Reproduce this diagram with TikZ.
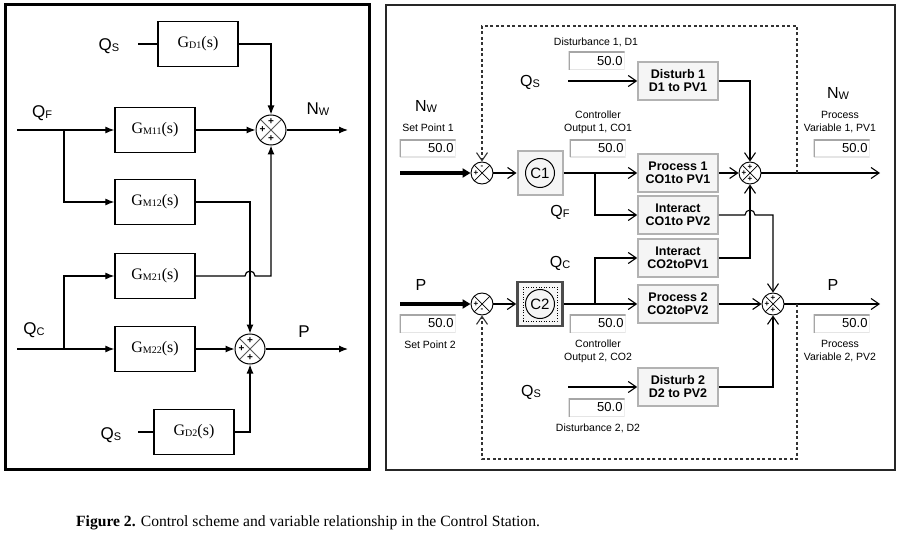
\documentclass[tikz,border=0pt]{standalone}
\usepackage{fontspec}
\setmainfont{Liberation Serif}
\setsansfont{Liberation Sans}
\usetikzlibrary{arrows.meta}
\newcommand\fs[1]{\fontsize{#1}{#1}\selectfont}
\newcommand\Gs[1]{G{\fs{10}\raisebox{-1pt}{#1}}(s)}
\newcommand\Qs[2]{#1{\fs{11}\raisebox{-1pt}{#2}}}
\begin{document}
\begin{tikzpicture}[x=1pt,y=-1pt,
  lbox/.style={draw, line width=1.3, minimum width=80, minimum height=45, inner sep=0, font=\fs{16}},
  larr/.style={line width=1.2, -{Latex[length=9pt,width=7pt]}},
  lline/.style={line width=1.2},
  llab/.style={font=\sffamily\fs{17}, inner sep=0},
  lsign/.style={font=\sffamily\bfseries\fs{10}, inner sep=0},
  lsum/.style n args={4}{circle, draw, line width=1, minimum size=30, inner sep=0,
    path picture={
      \draw[line width=0.8, gray!70!black] (path picture bounding box.north west) -- (path picture bounding box.south east)
        (path picture bounding box.north east) -- (path picture bounding box.south west);
      \node[lsign] at ([yshift=8.5pt]path picture bounding box.center) {#1};
      \node[lsign] at ([xshift=-8.5pt]path picture bounding box.center) {#2};
      \node[lsign] at ([yshift=-8.5pt]path picture bounding box.center) {#3};
      \node[lsign] at ([xshift=8.5pt]path picture bounding box.center) {#4};
    }},
  rbox/.style={draw=gray!60, line width=1.6, fill=gray!8, minimum width=80, minimum height=38, inner sep=0,
    font=\sffamily\bfseries\fontsize{12.5}{13}\selectfont, align=center},
  rarr/.style={line width=1.1, -{Straight Barb[length=8pt,width=11pt]}},
  thk/.style={line width=3.5, -{Triangle[length=8pt,width=9pt]}},
  fbk/.style={line width=1.1, dash pattern=on 3pt off 2.5pt, black!80, -{Straight Barb[length=8pt,width=11pt]}},
  rsign/.style={font=\sffamily\bfseries\fs{8}, inner sep=0},
  rsum/.style n args={4}{circle, draw, line width=0.9, minimum size=22, inner sep=0,
    path picture={
      \draw[line width=0.7] (path picture bounding box.north west) -- (path picture bounding box.south east)
        (path picture bounding box.north east) -- (path picture bounding box.south west);
      \node[rsign] at ([yshift=6pt]path picture bounding box.center) {#1};
      \node[rsign] at ([xshift=-6pt]path picture bounding box.center) {#2};
      \node[rsign] at ([yshift=-6pt]path picture bounding box.center) {#3};
      \node[rsign] at ([xshift=6pt]path picture bounding box.center) {#4};
    }},
  tbox/.style={minimum height=18, inner ysep=0, inner xsep=2, text width=52, align=right,
    font=\sffamily\fs{13},
    path picture={
      \draw[line width=2, gray!20] (path picture bounding box.south west) -| (path picture bounding box.north east);
      \draw[line width=3, gray!70] (path picture bounding box.south west) |- (path picture bounding box.north east);
    }},
  small/.style={font=\sffamily\fontsize{10.5}{13}\selectfont, align=center, inner sep=0},
  rlab/.style={font=\sffamily\fs{16}, inner sep=0},
  cbox/.style={draw=gray!60, line width=2, fill=gray!8, minimum width=45, minimum height=44, inner sep=0},
  ccirc/.style={circle, draw, line width=1, minimum size=29, inner sep=0, font=\sffamily\fs{15}}
]
\useasboundingbox (0,0) rectangle (902,540);
\fill[white] (0,0) rectangle (902,540);

% ---------------- left panel ----------------
\draw[line width=3] (5,5) rectangle (369,469);

\node[lbox] (gd1) at (198,44) {\Gs{D1}};
\node[lbox] (gm11) at (155,130) {\Gs{M11}};
\node[lbox] (gm12) at (155,202) {\Gs{M12}};
\node[lbox] (gm21) at (155,276) {\Gs{M21}};
\node[lbox] (gm22) at (155,349) {\Gs{M22}};
\node[lbox] (gd2) at (194,432) {\Gs{D2}};
\node[lsum={+}{+}{+}{}] (s1) at (271,130) {};
\node[lsum={+}{+}{+}{}] (s2) at (250,349) {};

\node[llab] (lqs1) at (109,46) {\Qs{Q}{S}};
\node[llab] (lqf) at (42,113) {\Qs{Q}{F}};
\node[llab] (lnw) at (318,109) {\Qs{N}{W}};
\node[llab] (lqc) at (34,330) {\Qs{Q}{C}};
\node[llab] (lp) at (304,332) {P};
\node[llab] (lqs2) at (111,435) {\Qs{Q}{S}};

\coordinate (qs1in) at (138,44);
\coordinate (qfin) at (17,130);
\coordinate (qfb) at (64,130);
\coordinate (nwout) at (348,130);
\coordinate (qcin) at (17,349);
\coordinate (qcb) at (64,349);
\coordinate (pout) at (348,349);
\coordinate (qs2in) at (138,432);

\draw[lline] (qs1in) -- (gd1.west);
\draw[larr] (gd1.east) -| (s1.north);
\draw[larr] (qfin) -- (gm11.west);
\draw[larr] (qfb) |- (gm12.west);
\draw[larr] (gm11.east) -- (s1.west);
\draw[larr] (s1.east) -- (nwout);
\draw[larr] (gm12.east) -| (s2.north);
\draw[larr] (gm21.east) -- ([xshift=-5pt]gm21.east -| s2.north) arc[start angle=180,end angle=0,radius=5pt] -| (s1.south);
\draw[larr] (qcin) -- (gm22.west);
\draw[larr] (qcb) |- (gm21.west);
\draw[larr] (gm22.east) -- (s2.west);
\draw[larr] (s2.east) -- (pout);
\draw[lline] (qs2in) -- (gd2.west);
\draw[larr] (gd2.east) -| (s2.south);

% ---------------- right panel ----------------
\draw[line width=1.5, black!85] (386,5) rectangle (895,470);

\node[rbox] (dist1) at (678,81) {Disturb 1\\D1 to PV1};
\node[rbox] (proc1) at (678,173) {Process 1\\CO1to PV1};
\node[rbox] (int12) at (678,215) {Interact\\CO1to PV2};
\node[rbox] (int21) at (678,258) {Interact\\CO2toPV1};
\node[rbox] (proc2) at (678,304) {Process 2\\CO2toPV2};
\node[rbox] (dist2) at (678,387) {Disturb 2\\D2 to PV2};

\node[cbox] (c1) at (540,173) {};
\node[ccirc] (c1c) at (c1) {C1};
\node[cbox, draw=gray!60!black, line width=2.6] (c2) at (540,304) {};
\node[draw, dotted, line width=0.6, minimum size=34, inner sep=0] (c2f) at (c2) {};
\node[ccirc] (c2c) at (c2) {C2};

\node[rsum={-}{+}{}{}] (sc1) at (482,173) {};
\node[rsum={}{+}{-}{}] (sc2) at (482,304) {};
\node[rsum={+}{+}{+}{}] (sp1) at (750,173) {};
\node[rsum={+}{+}{+}{}] (sp2) at (773,304) {};

\node[tbox] (tbd1) at (596.5,61) {50.0};
\node[tbox] (tbsp1) at (427.5,148.5) {50.0};
\node[tbox] (tbco1) at (597.5,148.5) {50.0};
\node[tbox] (tbpv1) at (841.5,148.5) {50.0};
\node[tbox] (tbsp2) at (427.5,323.5) {50.0};
\node[tbox] (tbco2) at (597.5,323.5) {50.0};
\node[tbox] (tbpv2) at (841.5,323.5) {50.0};
\node[tbox] (tbd2) at (596.5,407.5) {50.0};

\node[small] (ld1) at (596,42) {Disturbance 1, D1};
\node[small] (lsp1) at (428,128) {Set Point 1};
\node[small] (lco1) at (598,122.5) {Controller\\Output 1, CO1};
\node[small] (lpv1) at (840,122.5) {Process\\Variable 1, PV1};
\node[small] (lsp2) at (430,345) {Set Point 2};
\node[small] (lco2) at (598,351.5) {Controller\\Output 2, CO2};
\node[small] (lpv2) at (840,351.5) {Process\\Variable 2, PV2};
\node[small] (ld2) at (598,428) {Disturbance 2, D2};

\node[rlab] (rqs1) at (530,82) {\Qs{Q}{S}};
\node[rlab] (rnw1) at (426,106) {\Qs{N}{W}};
\node[rlab] (rnw2) at (838,93) {\Qs{N}{W}};
\node[rlab] (rqf) at (560,212) {\Qs{Q}{F}};
\node[rlab] (rqc) at (560,263) {\Qs{Q}{C}};
\node[rlab] (rp1) at (421,285) {P};
\node[rlab] (rp2) at (833,285) {P};
\node[rlab] (rqs2) at (531,392) {\Qs{Q}{S}};

\coordinate (sp1in) at (400,173);
\coordinate (sp2in) at (400,304);
\coordinate (b1) at (595,173);
\coordinate (b2) at (595,304);
\coordinate (qsd1) at (568,81);
\coordinate (qsd2) at (568,387);
\coordinate (pv1out) at (880,173);
\coordinate (pv2out) at (880,304);
\coordinate (fb1) at (797,173);
\coordinate (fb2) at (797,304);
\coordinate (dtop) at (640,26);
\coordinate (dbot) at (640,459);

\draw[thk] (sp1in) -- (sc1.west);
\draw[rarr] (sc1.east) -- (c1.west);
\draw[rarr] (c1.east) -- (proc1.west);
\draw[rarr] (b1) |- (int12.west);
\draw[rarr] (qsd1) -- (dist1.west);
\draw[rarr] (dist1.east) -| (sp1.north);
\draw[rarr] (proc1.east) -- (sp1.west);
\draw[rarr] (sp1.east) -- (pv1out);
\draw[rarr] (int21.east) -| (sp1.south);
\draw[rarr] (int12.east) -- ([xshift=-5pt]int12.east -| sp1.south) arc[start angle=180,end angle=0,radius=5pt] -| (sp2.north);

\draw[thk] (sp2in) -- (sc2.west);
\draw[rarr] (sc2.east) -- (c2.west);
\draw[rarr] (c2.east) -- (proc2.west);
\draw[rarr] (b2) |- (int21.west);
\draw[rarr] (proc2.east) -- (sp2.west);
\draw[rarr] (sp2.east) -- (pv2out);
\draw[rarr] (qsd2) -- (dist2.west);
\draw[rarr] (dist2.east) -| (sp2.south);

\draw[fbk] (fb1) |- (dtop) -| (sc1.north);
\draw[fbk] (fb2) |- (dbot) -| (sc2.south);

% ---------------- caption ----------------
\node[anchor=base west, font=\fs{15.6}, inner sep=0] (cap) at (76,526)
  {\textbf{Figure 2.} Control scheme and variable relationship in the Control Station.};
\end{tikzpicture}
\end{document}
